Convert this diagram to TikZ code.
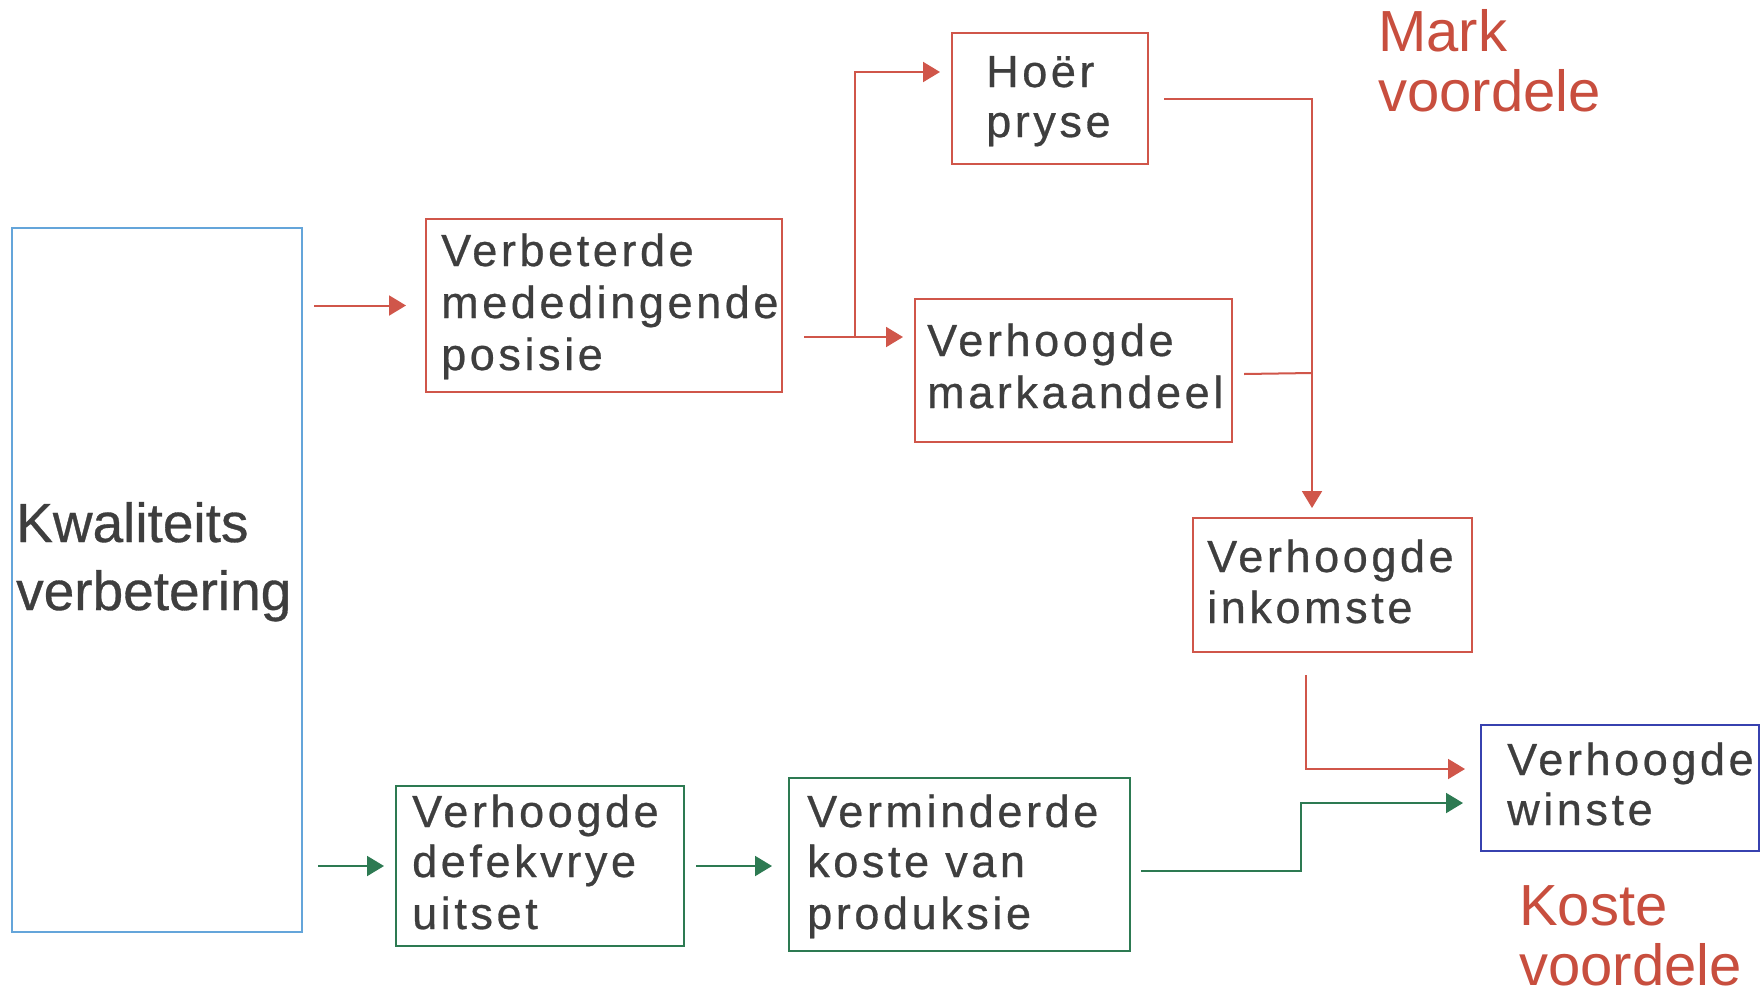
\documentclass[tikz,border=0pt]{standalone}
\usepackage{fontspec}
\setmainfont{Liberation Sans}
\newfontfamily\bxf[LetterSpace=8,FakeBold=0.6]{Liberation Sans}
\newfontfamily\bgf[FakeBold=0.6]{Liberation Sans}
\usetikzlibrary{arrows.meta}
\definecolor{rd}{RGB}{208,86,74}
\definecolor{rdtxt}{RGB}{200,78,62}
\definecolor{gr}{RGB}{45,122,82}
\definecolor{lb}{RGB}{100,165,218}
\definecolor{db}{RGB}{55,65,175}
\definecolor{tx}{RGB}{62,62,62}
\begin{document}
\begin{tikzpicture}[x=1pt,y=-1pt,
  box/.style={draw=#1, line width=2pt, inner sep=0pt, fill=none},
  bt/.style={anchor=base west, inner sep=0pt, text=tx, font=\bxf\fontsize{45}{50}\selectfont},
  bigt/.style={anchor=base west, inner sep=0pt, text=tx, font=\bgf\fontsize{55}{64}\selectfont},
  lab/.style={anchor=base west, inner sep=0pt, text=rdtxt, font=\fontsize{58}{64}\selectfont},
  rl/.style={draw=rd, line width=2pt},
  ra/.style={rl, -{Triangle[length=17pt,width=20pt]}},
  gl/.style={draw=gr, line width=2pt},
  ga/.style={gl, -{Triangle[length=17pt,width=20pt]}}]
\useasboundingbox[fill=white] (0,0) rectangle (1761,991);

% boxes
\node[box=lb, minimum width=290pt, minimum height=704pt] (kw) at (157,580) {};
\node[box=rd, minimum width=356pt, minimum height=173pt] (vb) at (604,305.5) {};
\node[box=rd, minimum width=196pt, minimum height=131pt] (hp) at (1050,98.5) {};
\node[box=rd, minimum width=317pt, minimum height=143pt] (vm) at (1073.5,370) {};
\node[box=rd, minimum width=279pt, minimum height=134pt] (vi) at (1332.5,585) {};
\node[box=db, minimum width=278pt, minimum height=126pt] (vw) at (1620,788) {};
\node[box=gr, minimum width=288pt, minimum height=160pt] (vd) at (540,866) {};
\node[box=gr, minimum width=341pt, minimum height=173pt] (vk) at (959.5,864.5) {};

% texts
\node[bigt] (kw1) at (16,542) {Kwaliteits};
\node[bigt] (kw2) at (16,610) {verbetering};

\node[bt] (vb1) at (441,266) {Verbeterde};
\node[bt] (vb2) at (441,318) {mededingende};
\node[bt] (vb3) at (441,370) {posisie};

\node[bt] (hp1) at (986,87) {Hoër};
\node[bt] (hp2) at (986,137) {pryse};

\node[bt] (vm1) at (927,356) {Verhoogde};
\node[bt] (vm2) at (927,408) {markaandeel};

\node[bt] (vi1) at (1207,572) {Verhoogde};
\node[bt] (vi2) at (1207,623) {inkomste};

\node[bt] (vw1) at (1507,775) {Verhoogde};
\node[bt] (vw2) at (1507,825) {winste};

\node[bt] (vd1) at (412,827) {Verhoogde};
\node[bt] (vd2) at (412,877) {defekvrye};
\node[bt] (vd3) at (412,929) {uitset};

\node[bt] (vk1) at (807,827) {Verminderde};
\node[bt] (vk2) at (807,877) {koste van};
\node[bt] (vk3) at (807,929) {produksie};

\node[lab] (mk1) at (1378,51) {Mark};
\node[lab] (mk2) at (1378,111) {voordele};
\node[lab] (ks1) at (1519,925) {Koste};
\node[lab] (ks2) at (1519,985) {voordele};

% connectors
\draw[ra] (kw.east |- vb.west) ++(11,0) -- ([xshift=-19pt]vb.west);
\draw[ra] ([shift={(21,31.5)}]vb.east) -- ([shift={(-11,-33)}]vm.west);
\draw[ra] ([shift={(72,31.5)}]vb.east) |- ([shift={(-11,-26.5)}]hp.west);
\draw[ra] ([xshift=15pt]hp.east) -| ([shift={(-20.5,-9)}]vi.north);
\draw[rl] ([shift={(11,4)}]vm.east) -- ([shift={(-20.5,-144)}]vi.north);
\draw[ra] ([shift={(-26.5,22)}]vi.south) |- ([shift={(-15,-19)}]vw.west);
\draw[ga] ([shift={(10,6.5)}]vk.east) -- ++(160,0) |- ([shift={(-17,15)}]vw.west);
\draw[ga] (kw.east |- vd.west) ++(15,0) -- ([xshift=-11pt]vd.west);
\draw[ga] ([xshift=11pt]vd.east) -- ([shift={(-16,1.5)}]vk.west);
\end{tikzpicture}
\end{document}
